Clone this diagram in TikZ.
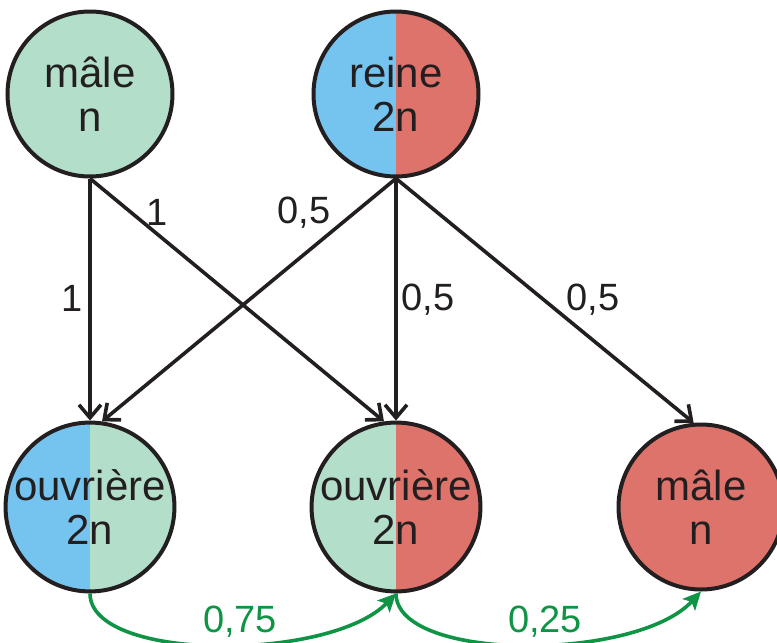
\documentclass[tikz,border=0pt]{standalone}
\usepackage{fontspec}
\setmainfont{Liberation Sans}
\usetikzlibrary{arrows.meta}
\definecolor{mint}{HTML}{B3DEC9}
\definecolor{sky}{HTML}{75C4F0}
\definecolor{coral}{HTML}{DE736B}
\definecolor{leaf}{HTML}{0F9445}
\definecolor{ink}{HTML}{231F20}
\begin{document}
\begin{tikzpicture}[x=1pt,y=-1pt,
  cell/.style={circle, draw=ink, line width=4pt, minimum size=165pt, inner sep=0pt,
    align=center, text=ink, font=\fontsize{42}{44}\selectfont},
  halves/.style 2 args={path picture={
    \fill[#1] (path picture bounding box.south west) rectangle (path picture bounding box.north);
    \fill[#2] (path picture bounding box.north east) rectangle (path picture bounding box.south);}},
  lbl/.style={text=ink, font=\fontsize{38}{40}\selectfont, inner sep=0pt},
  glbl/.style={text=leaf, font=\fontsize{38}{40}\selectfont, inner sep=0pt},
  blk/.style={draw=ink, line width=3.6pt, -{Straight Barb[length=13pt,width=22pt,line width=3.6pt]}},
  grn/.style={draw=leaf, line width=3.6pt, -{Stealth[length=18pt,width=17pt,inset=4pt]}}
]
\useasboundingbox (0,0) rectangle (777,643);
\node[cell, fill=mint] (m1) at (90,94) {mâle\\n};
\node[cell, halves={sky}{coral}] (q) at (396,94) {reine\\2n};
\node[cell, halves={sky}{mint}] (w1) at (90,507) {ouvrière\\2n};
\node[cell, halves={mint}{coral}] (w2) at (396,507) {ouvrière\\2n};
\node[cell, fill=coral] (m2) at (701,507) {mâle\\n};

\draw[blk] (m1.south) -- (w1.north);
\draw[blk] (m1.south) -- (w2.98);
\draw[blk] (q.south) -- (w1.82);
\draw[blk] (q.south) -- (w2.north);
\draw[blk] (q.south) -- (m2.95);

\node[lbl] (l1) at (72,298) {1};
\node[lbl] (l2) at (157,212) {1};
\node[lbl] (l3) at (304,213) {0,5};
\node[lbl] (l4) at (428,300) {0,5};
\node[lbl] (l5) at (593,300) {0,5};

\draw[grn] (w1.south) .. controls (90,662) and (330,662) .. (w2.south);
\draw[grn] (w2.south) .. controls (396,662) and (636,662) .. (m2.south);
\node[glbl] (g1) at (240,622) {0,75};
\node[glbl] (g2) at (545,622) {0,25};
\end{tikzpicture}
\end{document}
